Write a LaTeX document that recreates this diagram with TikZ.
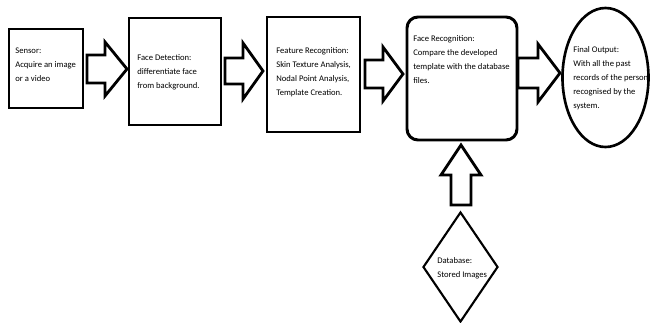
\documentclass[tikz,border=0pt]{standalone}
\usepackage{fontspec}
\setmainfont{Carlito}
\usetikzlibrary{shapes.geometric}
\begin{document}
\begin{tikzpicture}[x=0.02cm, y=-0.02cm]
  \def\px{0.02cm}
  \tikzset{
    box/.style={draw, line width=1.7pt, inner sep=0pt},
    thinshape/.style={draw, line width=1.2pt, inner sep=0pt},
    txt/.style={anchor=base west, align=left, inner sep=0pt,
      font=\fontsize{4.9}{7.9}\selectfont},
    blockarrow/.style={draw, line width=1.6pt, line join=miter},
  }
  \useasboundingbox (0,0) rectangle (650,322);
  % stages
  \node[box, minimum width=74*\px, minimum height=79*\px] (sensor) at (46,68.5) {};
  \node[box, minimum width=92*\px, minimum height=107*\px] (detect) at (175,71.5) {};
  \node[box, minimum width=93*\px, minimum height=115*\px] (feature) at (313.5,74.5) {};
  \node[box, rounded corners=0.22cm, minimum width=110*\px, minimum height=123*\px] (recog) at (462,78.5) {};
  \node[thinshape, line width=1.5pt, ellipse, minimum width=86*\px, minimum height=139*\px] (output) at (605.5,77.5) {};
  \node[thinshape, diamond, minimum width=75*\px, minimum height=110*\px] (database) at (460.5,267) {};
  % texts (placed at the baseline of the last line)
  \node[txt] (sensortext) at (15,81) {Sensor:\\Acquire an image\\or a video};
  \node[txt] (detecttext) at (137,88.5) {Face Detection:\\differentiate face\\from background.};
  \node[txt] (featuretext) at (276,95.5) {Feature Recognition:\\Skin Texture Analysis,\\Nodal Point Analysis,\\Template Creation.};
  \node[txt] (recogtext) at (413,83.5) {Face Recognition:\\Compare the developed\\template with the database\\files.};
  \node[txt] (outputtext) at (573,108.5) {Final Output:\\With all the past\\records of the person\\recognised by the\\system.};
  \node[txt] (databasetext) at (437,277) {Database:\\Stored Images};
  % block arrows
  \foreach \xa/\xb/\xc/\yc/\s/\h in {87/105/127/69/14/27, 225/243/263/71/13/28,
      365/383/403/74/14/27, 518/538/560/73/15/29}
    \draw[blockarrow] (\xa,\yc-\s) -- (\xb,\yc-\s) -- (\xb,\yc-\h) -- (\xc,\yc)
      -- (\xb,\yc+\h) -- (\xb,\yc+\s) -- (\xa,\yc+\s) -- cycle;
  \draw[blockarrow] (451,205) -- (451,175) -- (441,175) -- (461,145) -- (481,175)
    -- (471,175) -- (471,205) -- cycle;
\end{tikzpicture}
\end{document}
